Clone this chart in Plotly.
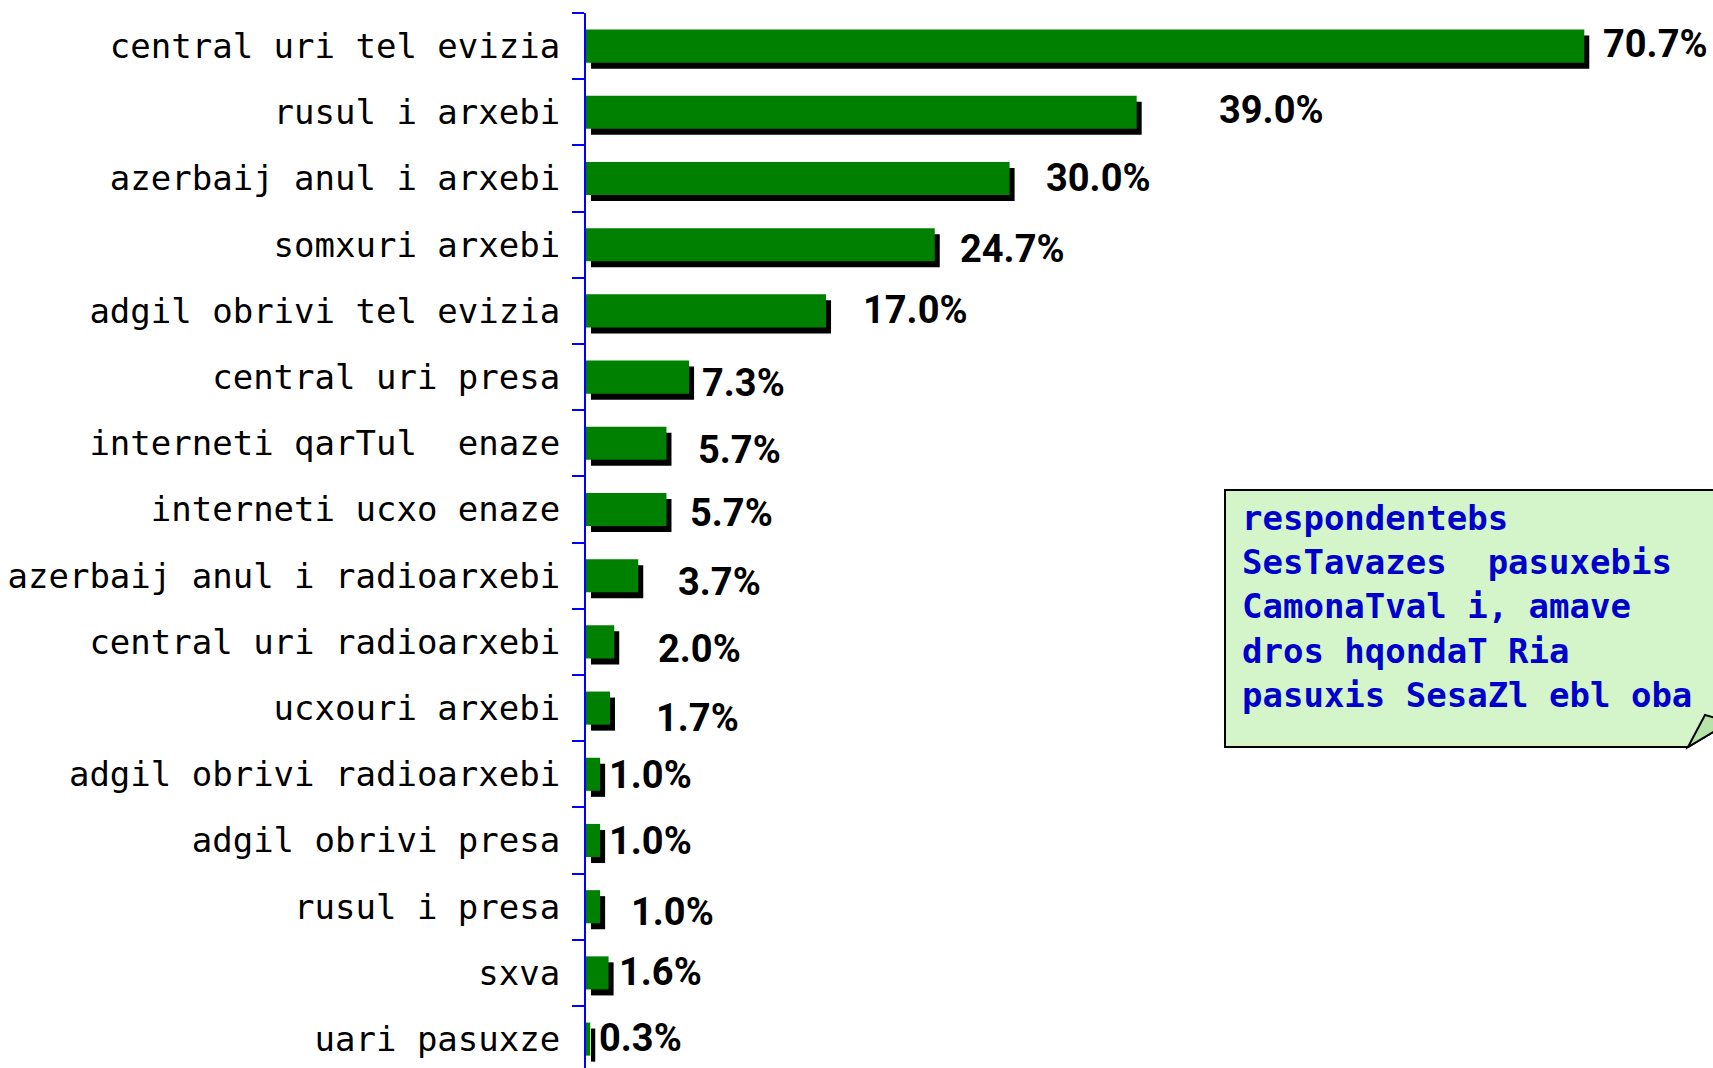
import plotly.graph_objects as go

# media sources (labels as they appear on the slide)
sources = [
    "central uri tel evizia",
    "rusul i arxebi",
    "azerbaij anul i arxebi",
    "somxuri arxebi",
    "adgil obrivi tel evizia",
    "central uri presa",
    "interneti qarTul  enaze",
    "interneti ucxo enaze",
    "azerbaij anul i radioarxebi",
    "central uri radioarxebi",
    "ucxouri arxebi",
    "adgil obrivi radioarxebi",
    "adgil obrivi presa",
    "rusul i presa",
    "sxva",
    "uari pasuxze",
]
shares = [70.7, 39.0, 30.0, 24.7, 17.0, 7.3, 5.7, 5.7, 3.7, 2.0, 1.7, 1.0, 1.0, 1.0, 1.6, 0.3]

note_lines = [
    "respondentebs",
    "SesTavazes  pasuxebis",
    "CamonaTval i, amave",
    "dros hqondaT Ria",
    "pasuxis SesaZl ebl oba",
]

# hand-placed value labels on the slide: gap right of the shadow, drop in px
label_gap = [12, 75, 29, 18, 30, 6, 25, 17, 33, 37, 39, 2, 2, 24, 3, 2]
label_drop = [-2, -2, -1, 4, -1, 6, 7, 3, 6, 7, 10, 1, 0, 5, -1, -1]

W, H = 1713, 1068
L, T = 586, 13
px_per_pct = 14.12
pitch = 66.2
plot_w = W - L
plot_h = H - T
xmax = plot_w / px_per_pct
ymax = plot_h / pitch - 0.5

shadow_dx = 5 / px_per_pct
shadow_dy = 6 / pitch

fig = go.Figure()
fig.add_trace(go.Bar(
    y=sources, x=shares, base=shadow_dx, orientation="h",
    width=0.5, offset=-0.25 + shadow_dy,
    marker=dict(color="black", line_width=0), hoverinfo="skip",
))
fig.add_trace(go.Bar(
    y=sources, x=shares, orientation="h",
    width=0.5, offset=-0.25,
    marker=dict(color="#008000", line_width=0),
))

for s, v, g, d in zip(sources, shares, label_gap, label_drop):
    fig.add_annotation(
        x=v, y=s, xref="x", yref="y", text=f"{v:.1f}%",
        showarrow=False, xanchor="left", yanchor="middle",
        xshift=5 + g, yshift=-d,
        font=dict(family="Roboto, Liberation Sans, sans-serif",
                  size=38, color="black", weight="bold"),
    )


def px(x):
    return (x - L) / plot_w


def py(y):
    return 1 - (y - T) / plot_h


# callout box with folded corner
bx0, by0, bx1, by1 = 1225, 490, 1730, 747
fold_x = 1688
fig.add_shape(
    type="path", xref="paper", yref="paper",
    path=(f"M {px(bx0)},{py(by0)} L {px(bx1)},{py(by0)} L {px(bx1)},{py(722)} "
          f"L {px(fold_x)},{py(by1)} L {px(bx0)},{py(by1)} Z"),
    fillcolor="#d3f5c9", line=dict(color="black", width=2), layer="above",
)
fig.add_shape(
    type="path", xref="paper", yref="paper",
    path=(f"M {px(fold_x)},{py(by1)} L {px(1705)},{py(715)} L {px(bx1)},{py(722)} Z"),
    fillcolor="#b5e3a8", line=dict(color="black", width=2), layer="above",
)
fig.add_annotation(
    x=px(1240), y=py(496), xref="paper", yref="paper",
    text="<br>".join(note_lines), showarrow=False,
    xanchor="left", yanchor="top", align="left",
    font=dict(family="DejaVu Sans Mono", size=34, color="#0000cc", weight="bold"),
)

fig.update_layout(
    width=W, height=H,
    margin=dict(l=L, r=0, t=T, b=0),
    paper_bgcolor="white", plot_bgcolor="white",
    barmode="overlay", showlegend=False,
    xaxis=dict(range=[0, xmax], visible=False, showgrid=False, zeroline=False),
    yaxis=dict(
        range=[ymax, -0.5], showgrid=False, zeroline=False, automargin=False,
        showline=True, linecolor="#0000ff", linewidth=2,
        ticks="outside", ticklen=12, tickcolor="#0000ff", tickwidth=2,
        tickson="boundaries", ticklabelstandoff=17,
        tickfont=dict(family="DejaVu Sans Mono", size=34, color="black"),
    ),
)

fig.write_html("out.html", config={"displayModeBar": False},
               post_script="document.body.style.margin='0';")
